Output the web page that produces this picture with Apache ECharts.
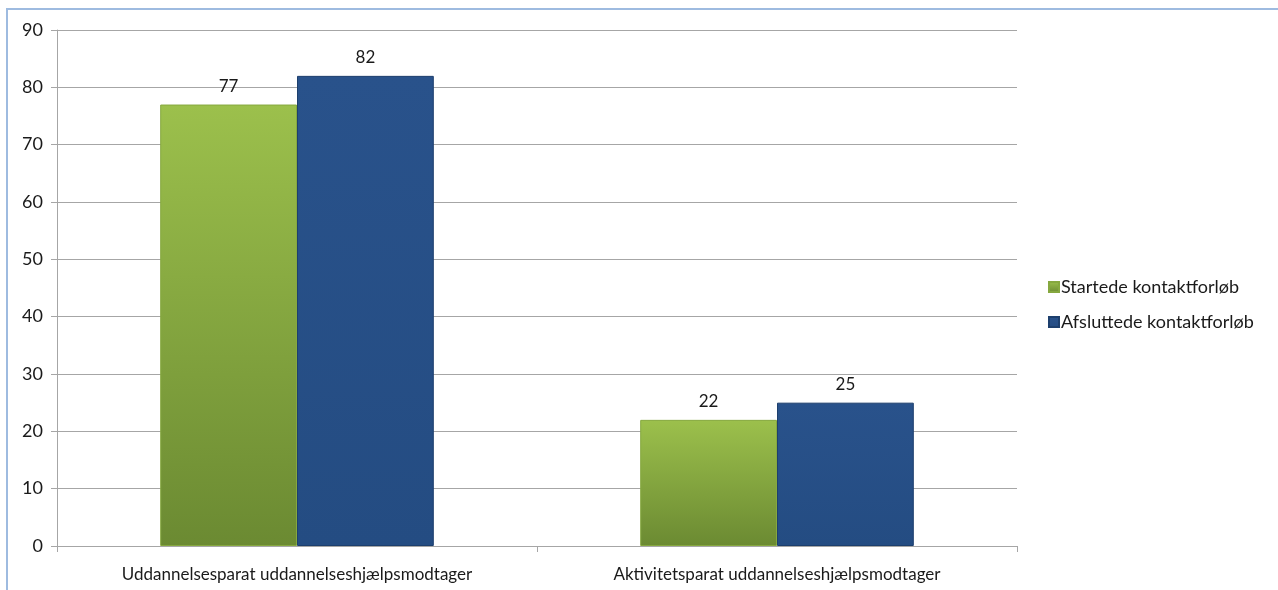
<!DOCTYPE html>
<html>
<head>
<meta charset="utf-8">
<script src="https://cdn.jsdelivr.net/npm/echarts@6/dist/echarts.min.js"></script>
<style>
  html, body { margin: 0; padding: 0; background: #fff; }
  #main { width: 1278px; height: 590px; }
  .frame {
    position: absolute; left: 6px; top: 8px; right: -4px; bottom: -4px;
    border-left: 2px solid #9ebbe0; border-top: 2px solid #9ebbe0;
    pointer-events: none;
  }
</style>
</head>
<body>
<div id="main"></div>
<div class="frame"></div>
<script>
// kategorier og værdier
const categories = ['Uddannelsesparat uddannelseshjælpsmodtager', 'Aktivitetsparat uddannelseshjælpsmodtager']
const seriesNames = ['Startede kontaktforløb', 'Afsluttede kontaktforløb']
const startede = [77, 22]
const afsluttede = [82, 25]
const yTicks = { min: 0, max: 90, interval: 10 }

const font = 'Lato, "Noto Sans", sans-serif'

function grad(top, bottom) {
  return new echarts.graphic.LinearGradient(0, 0, 0, 1, [
    { offset: 0, color: top },
    { offset: 1, color: bottom }
  ])
}

const chart = echarts.init(document.getElementById('main'))
chart.setOption({
  animation: false,
  textStyle: { fontFamily: font },
  grid: { left: 57, right: 261, top: 30, bottom: 44 },
  legend: {
    orient: 'vertical',
    left: 1043,
    top: 273,
    itemWidth: 10,
    itemHeight: 10,
    itemGap: 17,
    icon: 'rect',
    textStyle: { fontSize: 18, color: '#1a1a1a', fontFamily: font, padding: [0, 0, 0, -3] },
    data: seriesNames
  },
  xAxis: {
    type: 'category',
    data: categories,
    axisLine: { lineStyle: { color: '#a6a6a6', width: 1 } },
    axisTick: { show: true, length: 6, lineStyle: { color: '#a6a6a6' } },
    axisLabel: { color: '#1a1a1a', fontSize: 17, margin: 20, interval: 0 }
  },
  yAxis: {
    type: 'value',
    min: yTicks.min,
    max: yTicks.max,
    interval: yTicks.interval,
    axisLine: { show: true, lineStyle: { color: '#a6a6a6', width: 1 } },
    axisTick: { show: true, length: 6, lineStyle: { color: '#a6a6a6' } },
    axisLabel: { color: '#1a1a1a', fontSize: 18, margin: 14 },
    splitLine: { lineStyle: { color: '#a6a6a6', width: 1 } }
  },
  series: [
    {
      name: seriesNames[0],
      type: 'bar',
      data: startede,
      barGap: '0%',
      barCategoryGap: '43%',
      itemStyle: {
        color: grad('#9cc04c', '#6b8a32'),
        borderColor: '#86a83f',
        borderWidth: 1
      },
      label: { show: true, position: 'top', distance: 10, fontSize: 17, color: '#1a1a1a' }
    },
    {
      name: seriesNames[1],
      type: 'bar',
      data: afsluttede,
      itemStyle: {
        color: grad('#29528b', '#244c82'),
        borderColor: '#1d3f6d',
        borderWidth: 1
      },
      label: { show: true, position: 'top', distance: 10, fontSize: 17, color: '#1a1a1a' }
    }
  ]
})
</script>
</body>
</html>
